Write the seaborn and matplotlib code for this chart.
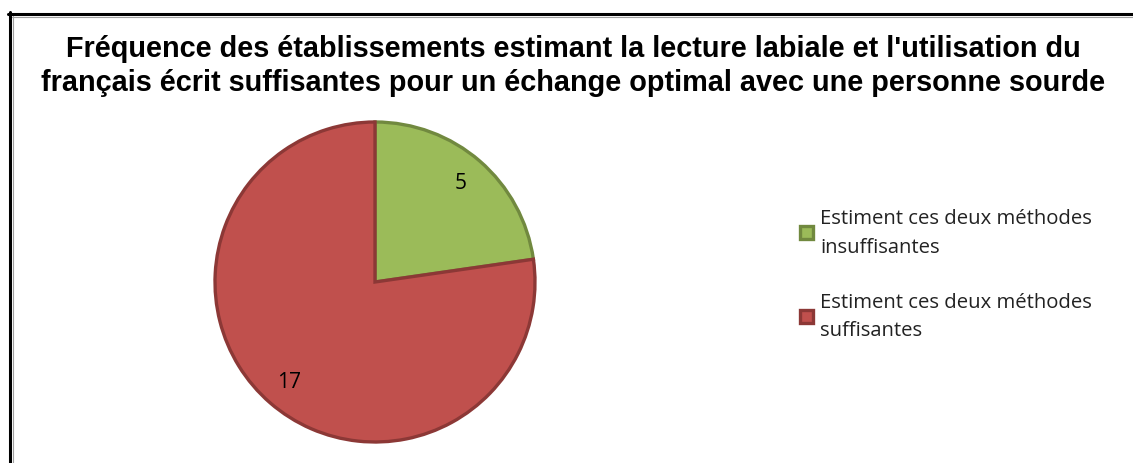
import matplotlib
matplotlib.use("Agg")
import matplotlib.pyplot as plt
import seaborn as sns
from matplotlib.lines import Line2D

# Data
categories = ["Estiment ces deux méthodes\ninsuffisantes",
              "Estiment ces deux méthodes\nsuffisantes"]
counts = [5, 17]
fill_colors = ["#9BBB59", "#C0504D"]
edge_colors = ["#71893F", "#8C3836"]
title = ("Fréquence des établissements estimant la lecture labiale et l'utilisation du\n"
         "français écrit suffisantes pour un échange optimal avec une personne sourde")

sns.set_theme(style="white")
plt.rcParams['font.family'] = ['Liberation Sans', 'DejaVu Sans']

W, H = 1133, 464
fig = plt.figure(figsize=(W / 100, H / 100), dpi=100)

# pie axes: center (375, 283) px, radius 160 px
cx, cy, r = 375, 283, 160
ax = fig.add_axes([(cx - r) / W, (H - cy - r) / H, 2 * r / W, 2 * r / H])
total = sum(counts)
wedges, texts, autotexts = ax.pie(
    counts, colors=fill_colors, startangle=90, counterclock=False,
    autopct=lambda p: f"{round(p * total / 100)}", pctdistance=0.82,
    wedgeprops=dict(linewidth=2.4),
    textprops=dict(fontsize=15, color="black", family="Open Sans"))
for w, ec in zip(wedges, edge_colors):
    w.set_edgecolor(ec)
    w.set_clip_on(False)
ax.set_xlim(-1, 1)
ax.set_ylim(-1, 1)
ax.set_aspect("equal")
ax.axis("off")

# title
fig.text(0.506, (H - 66) / H, title, ha="center", va="center", color="black",
         fontsize=20.8, fontweight="bold", linespacing=1.3)

# legend
leg = fig.legend(wedges, categories, loc="upper left",
                 bbox_to_anchor=(792 / W, (H - 201) / H), frameon=False,
                 prop=dict(family="Open Sans", size=14.6),
                 handlelength=0.65, handleheight=0.65, handletextpad=0.35,
                 labelspacing=1.75, borderaxespad=0)
for t in leg.get_texts():
    t.set_linespacing(1.56)
    t.set_color("#222222")

# chart border (left and top)
fig.add_artist(Line2D([9.5 / W, 9.5 / W], [0, (H - 13) / H], color="black",
                      linewidth=2.2, transform=fig.transFigure))
fig.add_artist(Line2D([8 / W, 1.0], [(H - 14.5) / H, (H - 14.5) / H], color="black",
                      linewidth=2.2, transform=fig.transFigure))
fig.add_artist(Line2D([12.5 / W, 12.5 / W], [0, (H - 17) / H], color="#A0A0A0",
                      linewidth=0.8, transform=fig.transFigure))
fig.add_artist(Line2D([12 / W, 1.0], [(H - 17.5) / H, (H - 17.5) / H], color="#A0A0A0",
                      linewidth=0.8, transform=fig.transFigure))

fig.savefig("out.png", dpi=100)
